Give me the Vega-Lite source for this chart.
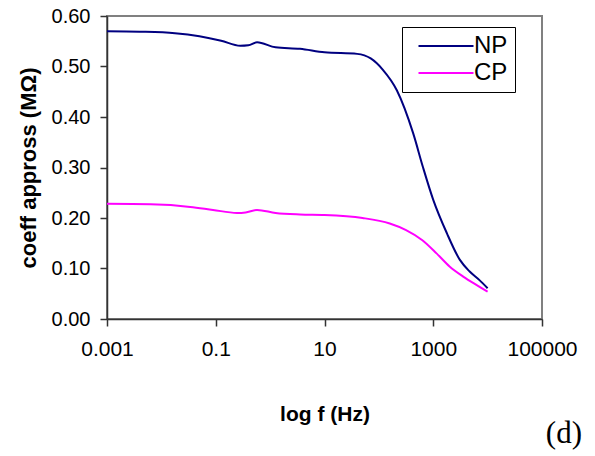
{
  "$schema": "https://vega.github.io/schema/vega-lite/v6.json",
  "width": 435,
  "height": 303,
  "autosize": "none",
  "padding": {"left": 107, "top": 16, "right": 53, "bottom": 137},
  "background": "white",
  "title": {"text": "(d)", "orient": "bottom", "anchor": "end", "frame": "group", "dx": 40, "offset": -5, "font": "Liberation Serif", "fontSize": 31, "fontWeight": "normal", "color": "#000"},
  "data": {"values": [
    {"f": 0.001, "v": 0.570, "s": "NP"},
    {"f": 0.00398, "v": 0.569, "s": "NP"},
    {"f": 0.01778, "v": 0.566, "s": "NP"},
    {"f": 0.0501, "v": 0.560, "s": "NP"},
    {"f": 0.1259, "v": 0.551, "s": "NP"},
    {"f": 0.2818, "v": 0.541, "s": "NP"},
    {"f": 0.398, "v": 0.542, "s": "NP"},
    {"f": 0.575, "v": 0.548, "s": "NP"},
    {"f": 1.259, "v": 0.538, "s": "NP"},
    {"f": 3.548, "v": 0.535, "s": "NP"},
    {"f": 10, "v": 0.528, "s": "NP"},
    {"f": 39.81, "v": 0.525, "s": "NP"},
    {"f": 70.79, "v": 0.516, "s": "NP"},
    {"f": 117.5, "v": 0.494, "s": "NP"},
    {"f": 213.8, "v": 0.453, "s": "NP"},
    {"f": 426.6, "v": 0.368, "s": "NP"},
    {"f": 645.7, "v": 0.301, "s": "NP"},
    {"f": 1000, "v": 0.236, "s": "NP"},
    {"f": 1778, "v": 0.170, "s": "NP"},
    {"f": 3090, "v": 0.117, "s": "NP"},
    {"f": 4677, "v": 0.094, "s": "NP"},
    {"f": 7079, "v": 0.077, "s": "NP"},
    {"f": 10000, "v": 0.061, "s": "NP"},
    {"f": 0.001, "v": 0.228, "s": "CP"},
    {"f": 0.00631, "v": 0.227, "s": "CP"},
    {"f": 0.0339, "v": 0.222, "s": "CP"},
    {"f": 0.0891, "v": 0.216, "s": "CP"},
    {"f": 0.2455, "v": 0.210, "s": "CP"},
    {"f": 0.3548, "v": 0.211, "s": "CP"},
    {"f": 0.575, "v": 0.216, "s": "CP"},
    {"f": 1.259, "v": 0.210, "s": "CP"},
    {"f": 3.548, "v": 0.207, "s": "CP"},
    {"f": 10, "v": 0.206, "s": "CP"},
    {"f": 50.12, "v": 0.200, "s": "CP"},
    {"f": 158.5, "v": 0.189, "s": "CP"},
    {"f": 316.2, "v": 0.176, "s": "CP"},
    {"f": 631, "v": 0.156, "s": "CP"},
    {"f": 1148, "v": 0.130, "s": "CP"},
    {"f": 1995, "v": 0.104, "s": "CP"},
    {"f": 3548, "v": 0.084, "s": "CP"},
    {"f": 6310, "v": 0.067, "s": "CP"},
    {"f": 10000, "v": 0.054, "s": "CP"}
  ]},
  "mark": {"type": "line", "strokeWidth": 2, "interpolate": "monotone"},
  "encoding": {
    "x": {"field": "f", "type": "quantitative",
      "scale": {"type": "log", "domain": [0.001, 100000], "nice": false},
      "axis": {"title": "log f (Hz)", "values": [0.001, 0.1, 10, 1000, 100000], "format": "~g",
        "grid": false, "tickSize": 7, "labelPadding": 12, "titlePadding": 44,
        "labelFlush": false, "labelOverlap": false, "labelFontSize": 21}},
    "y": {"field": "v", "type": "quantitative",
      "scale": {"domain": [0, 0.6], "nice": false},
      "axis": {"title": "coeff appross (MΩ)", "values": [0, 0.1, 0.2, 0.3, 0.4, 0.5, 0.6], "format": ".2f",
        "grid": false, "tickSize": 7, "labelPadding": 10, "titlePadding": 11, "titleFontSize": 22}},
    "color": {"field": "s", "type": "nominal",
      "scale": {"domain": ["NP", "CP"], "range": ["#000080", "#FF00FF"]},
      "legend": {"title": "\u2003", "titleOrient": "right", "titleFontSize": 13, "titlePadding": 0,
        "orient": "none", "legendX": 295, "legendY": 11,
        "symbolType": "M-2.5,0H2.5", "symbolSize": 484, "symbolStrokeWidth": 2, "symbolOffset": 25,
        "labelFontSize": 24, "labelFont": "Liberation Sans", "labelColor": "#000", "labelOffset": 16,
        "strokeColor": "#000", "padding": 7, "rowPadding": 3, "fillColor": "white"}}
  },
  "config": {
    "view": {"stroke": "#808080", "strokeWidth": 2},
    "axis": {"labelFont": "Liberation Sans", "labelFontSize": 20, "labelColor": "#000",
      "titleFont": "Liberation Sans", "titleFontSize": 21, "titleFontWeight": "bold", "titleColor": "#000",
      "domainColor": "#333", "domainWidth": 1.5, "tickColor": "#333", "tickWidth": 1.5}
  }
}
